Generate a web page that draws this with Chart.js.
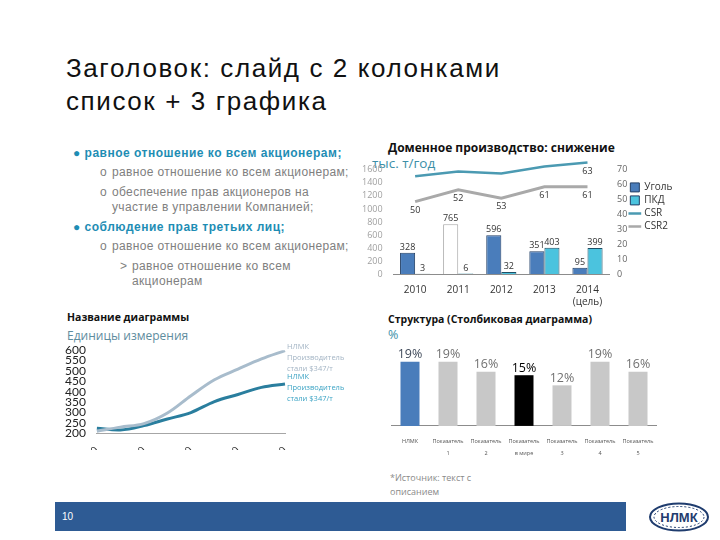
<!DOCTYPE html>
<html>
<head>
<meta charset="utf-8">
<script src="https://cdn.jsdelivr.net/npm/chart.js@4/dist/chart.umd.min.js"></script>
<style>
  body { margin: 0; width: 720px; height: 540px; background: #fff; position: relative; overflow: hidden; font-family: "Liberation Sans", Arial, sans-serif; }
  .abs { position: absolute; }
  .title { left: 66px; top: 52px; font-size: 26px; line-height: 33px; color: #111; letter-spacing: 1.6px; white-space: nowrap; }
  .list { left: 73px; top: 146px; font-size: 12px; line-height: 15px; letter-spacing: 0.35px; white-space: nowrap; }
  .l1 { color: #1E8DB4; font-weight: bold; margin-bottom: 4px; letter-spacing: 0.5px; }
  .l2 { color: #808080; margin-left: 27px; margin-bottom: 5px; }
  .l3 { color: #808080; margin-left: 47px; }
  .ind { display: inline-block; width: 12px; letter-spacing: 0; }
  .ctitle { font-family: "Open Sans", sans-serif; font-weight: bold; font-size: 12px; color: #111; white-space: nowrap; }
  .cunit { font-family: "Open Sans", sans-serif; font-size: 13.5px; color: #3C8FA8; }
  .footer { left: 55px; top: 502px; width: 571px; height: 29px; background: #2E5B94; color: #fff; font-size: 10px; line-height: 29px; padding-left: 7px; box-sizing: border-box; }
  .src { left: 390px; top: 471px; font-size: 9px; line-height: 14px; color: #8A8A8A; font-family: "Open Sans", sans-serif; }
</style>
</head>
<body>
<div class="abs title">Заголовок: слайд с 2 колонками<br>список + 3 графика</div>

<div class="abs list">
  <div class="l1">● равное отношение ко всем акционерам;</div>
  <div class="l2"><span class="ind">o</span>равное отношение ко всем акционерам;</div>
  <div class="l2"><span class="ind">o</span>обеспечение прав акционеров на<br><span class="ind"></span>участие в управлении Компанией;</div>
  <div class="l1">● соблюдение прав третьих лиц;</div>
  <div class="l2"><span class="ind">o</span>равное отношение ко всем акционерам;</div>
  <div class="l3"><span class="ind">&gt;</span>равное отношение ко всем<br><span class="ind"></span>акционерам</div>
</div>

<div class="abs ctitle" style="left:388px;top:139px">Доменное производство: снижение</div>
<div class="abs cunit" style="left:372px;top:154px">тыс. т/год</div>
<div class="abs" style="left:359px;top:150px;width:322px;height:160px"><canvas id="c1"></canvas></div>

<div class="abs ctitle" style="left:67px;top:310px;font-size:10.5px">Название диаграммы</div>
<div class="abs cunit" style="left:67px;top:327px;color:#5E8C9E;font-size:12px">Единицы измерения</div>
<div class="abs" style="left:62px;top:340px;width:300px;height:110px;overflow:hidden"><div style="width:300px;height:132px"><canvas id="c2"></canvas></div></div>

<div class="abs ctitle" style="left:388px;top:312px;font-size:10.5px">Структура (Столбиковая диаграмма)</div>
<div class="abs cunit" style="left:388px;top:326px;font-size:12.5px">%</div>
<div class="abs" style="left:391px;top:345px;width:266px;height:116px"><canvas id="c3"></canvas></div>

<div class="abs src">*Источник: текст с<br>описанием</div>

<div class="abs footer">10</div>
<svg class="abs" style="left:648px;top:502px" width="62" height="30">
  <ellipse cx="31" cy="15" rx="29" ry="13.5" fill="#fff" stroke="#1F3C6E" stroke-width="2"/>
  <ellipse cx="31" cy="15" rx="25" ry="10.5" fill="none" stroke="#1F3C6E" stroke-width="1" stroke-dasharray="2 2"/>
  <text x="31" y="20" text-anchor="middle" font-family="Liberation Sans, Arial" font-weight="bold" font-size="13" fill="#1F3C6E">НЛМК</text>
</svg>

<script>
// --- chart 1: доменное производство
const years = ['2010', '2011', '2012', '2013', ['2014', '(цель)']];
const coal = [328, 765, 596, 351, 95];
const pkd = [3, 6, 32, 403, 399];
const csr = [65.8, 69, 67.6, 72.3, 75];
const csr2 = [48.7, 56.7, 51, 58.7, 58.7];
const csrLabels = ['', '', '', '', '63'];
const csr2Labels = ['50', '52', '53', '61', '61'];

// --- chart 2: название диаграммы
const periods = ['1970', '1975', '1980', '1985', '1990', '1995', '2000', '2005', '2010'];
const lineGrey = [210, 230, 247, 298, 381, 458, 509, 558, 598];
const lineTeal = [225, 216, 237, 269, 300, 353, 387, 421, 437];
const endLabel = ['НЛМК', 'Производитель', 'стали $347/т'];

// --- chart 3: структура
const structCats = ['НЛМК', ['Показатель', '1'], ['Показатель', '2'], ['Показатель', 'в мире'], ['Показатель', '3'], ['Показатель', '4'], ['Показатель', '5']];
const structVals = [19, 19, 16, 15, 12, 19, 16];

const chartFont = '"Open Sans", sans-serif';

// value labels for bars and lines
const valueLabels = {
  id: 'valueLabels',
  afterDatasetsDraw(chart) {
    const ctx = chart.ctx;
    chart.data.datasets.forEach((ds, i) => {
      const meta = chart.getDatasetMeta(i);
      if (!ds.valLabels) return;
      ctx.save();
      ctx.font = ds.valFont || ('9px ' + chartFont);
      ctx.textAlign = 'center';
      meta.data.forEach((el, j) => {
        const txt = ds.valLabels[j];
        if (!txt) return;
        ctx.fillStyle = Array.isArray(ds.valColor) ? ds.valColor[j] : (ds.valColor || '#333');
        if (ds.valPos === 'below') {
          ctx.textBaseline = 'top';
          ctx.fillText(txt, el.x, el.y + 4);
        } else {
          ctx.textBaseline = 'bottom';
          ctx.fillText(txt, el.x, el.y - 1);
        }
      });
      ctx.restore();
    });
  }
};

new Chart(document.getElementById('c1'), {
  data: {
    labels: years,
    datasets: [
      { type: 'bar', label: 'Уголь', data: coal, yAxisID: 'y',
        backgroundColor: ['#4A7DBB', '#FFFFFF', '#4A7DBB', '#4A7DBB', '#4A7DBB'],
        borderColor: ['#223F66', '#A6A6A6', '#223F66', '#223F66', '#223F66'], borderWidth: 1,
        categoryPercentage: 0.7, barPercentage: 1,
        valLabels: coal.map(String) },
      { type: 'bar', label: 'ПКД', data: pkd, yAxisID: 'y',
        backgroundColor: '#4BC3DE', borderColor: '#1E4F66', borderWidth: 1,
        categoryPercentage: 0.7, barPercentage: 1,
        valLabels: pkd.map(String) },
      { type: 'line', label: 'CSR', data: csr, yAxisID: 'y1',
        borderColor: '#4B9AB2', borderWidth: 2.5, pointRadius: 0, tension: 0,
        valLabels: csrLabels, valPos: 'below' },
      { type: 'line', label: 'CSR2', data: csr2, yAxisID: 'y1',
        borderColor: '#A9A9A9', borderWidth: 3, pointRadius: 0, tension: 0,
        valLabels: csr2Labels, valPos: 'below' }
    ]
  },
  options: {
    responsive: true, maintainAspectRatio: false, animation: false,
    layout: { padding: { top: 11, right: 0 } },
    plugins: {
      legend: {
        position: 'right', align: 'start',
        title: { display: true, text: ' ', padding: 2 },
        labels: {
          font: { family: chartFont, size: 10 }, color: '#333', boxWidth: 9, boxHeight: 9, padding: 3,
          usePointStyle: true,
          generateLabels(chart) {
            const items = Chart.defaults.plugins.legend.labels.generateLabels(chart);
            items.forEach(it => {
              const ds = chart.data.datasets[it.datasetIndex];
              if (ds.type === 'line') { it.pointStyle = 'line'; it.lineWidth = 2.5; it.strokeStyle = ds.borderColor; }
              else { it.pointStyle = 'rect'; it.fillStyle = it.datasetIndex === 0 ? '#4A7DBB' : '#4BC3DE'; it.strokeStyle = '#223F66'; it.lineWidth = 1; }
            });
            return items;
          }
        }
      },
      tooltip: { enabled: false }
    },
    scales: {
      x: { grid: { display: false }, border: { color: '#8C8C8C' },
        ticks: { font: { family: chartFont, size: 10 }, color: '#333', padding: 2 } },
      y: { position: 'left', min: 0, max: 1737, grid: { display: false }, border: { display: false },
        afterBuildTicks(axis) { axis.ticks = [0, 200, 400, 600, 800, 1000, 1200, 1400, 1600].map(v => ({ value: v })); },
        ticks: { font: { family: chartFont, size: 9 }, color: '#A0A0A0', padding: 3, callback: v => String(v) } },
      y1: { position: 'right', min: 0, max: 76, grid: { display: false }, border: { display: false },
        afterBuildTicks(axis) { axis.ticks = [0, 10, 20, 30, 40, 50, 60, 70].map(v => ({ value: v })); },
        ticks: { font: { family: chartFont, size: 9 }, color: '#666', padding: 0, callback: v => String(v) } }
    }
  },
  plugins: [valueLabels]
});

// end-of-line labels for chart 2
const endLabels = {
  id: 'endLabels',
  afterDatasetsDraw(chart) {
    const ctx = chart.ctx;
    chart.data.datasets.forEach((ds, i) => {
      const pts = chart.getDatasetMeta(i).data;
      const last = pts[pts.length - 1];
      ctx.save();
      ctx.font = '7.5px ' + chartFont;
      ctx.fillStyle = ds.labelColor;
      ctx.textBaseline = 'middle';
      endLabel.forEach((t, k) => ctx.fillText(t, last.x + 2, last.y + ds.labelShift + k * 11));
      ctx.restore();
    });
  }
};

new Chart(document.getElementById('c2'), {
  type: 'line',
  data: {
    labels: periods,
    datasets: [
      { label: 'grey', data: lineGrey, borderColor: '#A8BCCC', borderWidth: 3, pointRadius: 0, tension: 0.35,
        labelColor: '#A3B4C4', labelShift: -4 },
      { label: 'teal', data: lineTeal, borderColor: '#2A7E9E', borderWidth: 3, pointRadius: 0, tension: 0.35,
        labelColor: '#3BA3C4', labelShift: -7 }
    ]
  },
  options: {
    responsive: true, maintainAspectRatio: false, animation: false,
    layout: { padding: { top: 6, right: 77 } },
    plugins: { legend: { display: false }, tooltip: { enabled: false } },
    scales: {
      x: { grid: { display: false }, border: { color: '#A6A6A6' },
        ticks: { autoSkip: false, minRotation: 45, maxRotation: 45, font: { family: chartFont, size: 10 }, color: '#333',
          callback(v, i) { return i % 2 === 0 ? this.getLabelForValue(v) : ''; } } },
      y: { min: 200, max: 600, grid: { display: false }, border: { display: false },
        ticks: { stepSize: 50, autoSkip: false, font: { family: 'Lato, sans-serif', size: 12 }, color: '#222', padding: 3 } }
    }
  },
  plugins: [endLabels]
});

new Chart(document.getElementById('c3'), {
  type: 'bar',
  data: {
    labels: structCats,
    datasets: [{
      data: structVals,
      backgroundColor: ['#4A7DBB', '#C8C8C8', '#C8C8C8', '#000000', '#C8C8C8', '#C8C8C8', '#C8C8C8'],
      categoryPercentage: 1, barPercentage: 0.5,
      valLabels: structVals.map(v => v + '%'),
      valFont: '12.5px ' + chartFont,
      valColor: ['#404A5A', '#707070', '#707070', '#000000', '#707070', '#707070', '#707070']
    }]
  },
  options: {
    responsive: true, maintainAspectRatio: false, animation: false,
    layout: { padding: { top: 14 } },
    plugins: { legend: { display: false }, tooltip: { enabled: false } },
    scales: {
      x: { grid: { display: false }, border: { color: '#8C8C8C' },
        ticks: { autoSkip: false, maxRotation: 0, font: { family: chartFont, size: 5.5, lineHeight: 2.1 }, color: '#555', padding: 2 } },
      y: { display: false, min: 0, max: 19.8 }
    }
  },
  plugins: [valueLabels]
});
</script>
</body>
</html>
